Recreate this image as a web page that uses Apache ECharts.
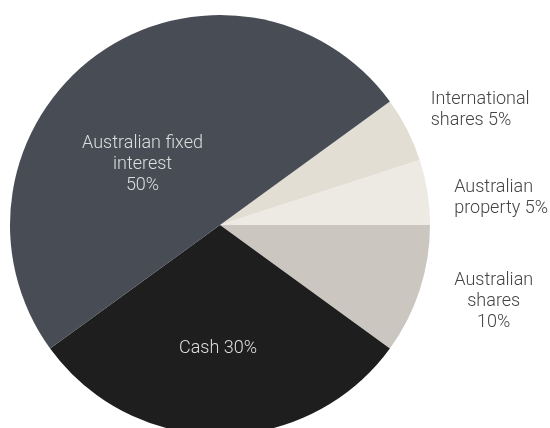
<!DOCTYPE html>
<html>
<head>
<meta charset="utf-8">
<style>
html,body{margin:0;padding:0;background:#fff;}
#chart{width:550px;height:428px;}
</style>
<script src="https://cdn.jsdelivr.net/npm/echarts@6/dist/echarts.min.js"></script>
</head>
<body>
<div id="chart"></div>
<script>
const categories = ['International shares', 'Australian property', 'Australian shares', 'Cash', 'Australian fixed interest'];
const values = [5, 5, 10, 30, 50];
const labelTexts = [
  ['International', 'shares 5%'],
  ['Australian', 'property 5%'],
  ['Australian', 'shares', '10%'],
  ['Cash 30%'],
  ['Australian fixed', 'interest', '50%']
];
const colors = ['#e3ded3', '#ede9e3', '#cbc7c0', '#1f1e1f', '#474c55'];
const labelColors = ['#444444', '#444444', '#444444', '#dedede', '#dedede'];
const labelOffsets = [[164, -66], [174, -10], [171, 43], [-2, 15], [-14, 27]];
const lineAligns = ['left', 'left', 'center', 'center', 'center'];
const lineWidths = [99, 93, 0, 0, 0];

const chart = echarts.init(document.getElementById('chart'), null, {renderer: 'canvas'});
chart.setOption({
  animation: false,
  series: [{
    type: 'pie',
    center: [220, 225],
    radius: 210,
    startAngle: 36,
    clockwise: true,
    avoidLabelOverlap: false,
    labelLine: {show: false},
    itemStyle: {borderWidth: 0},
    emphasis: {disabled: true},
    data: values.map((v, i) => {
      const st = {
        color: labelColors[i],
        fontFamily: 'Roboto',
        fontWeight: 300,
        fontSize: 18,
        lineHeight: 21,
        align: lineAligns[i]
      };
      if (lineWidths[i]) st.width = lineWidths[i];
      return {
        value: v,
        name: categories[i],
        itemStyle: {color: colors[i]},
        label: {
          show: true,
          position: 'inside',
          formatter: labelTexts[i].map(t => '{t|' + t + '}').join('\n'),
          rich: {t: st},
          offset: labelOffsets[i]
        }
      };
    })
  }]
});
</script>
</body>
</html>
